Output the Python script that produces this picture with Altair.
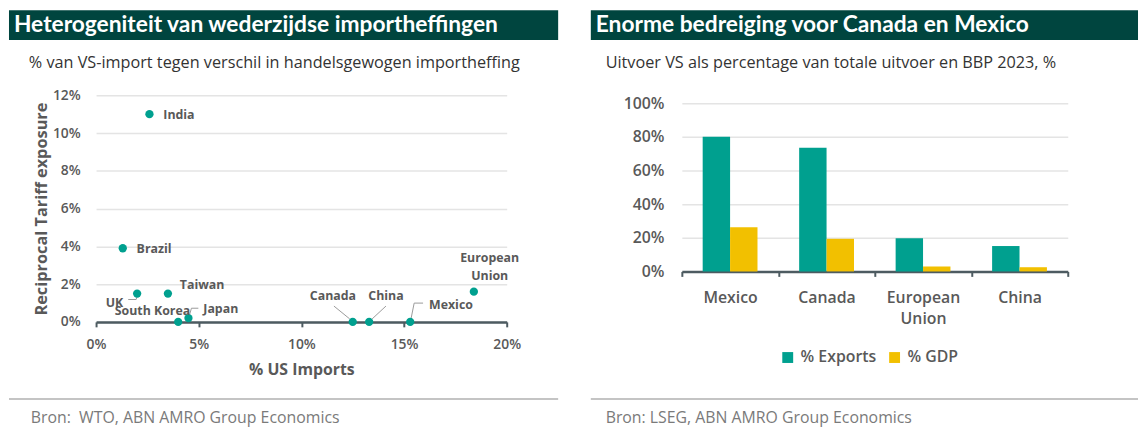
import altair as alt
import pandas as pd

# ---------------- data ----------------
# Left panel: scatter
countries = ["India", "Brazil", "UK", "Taiwan", "South Korea", "Japan",
             "Canada", "China", "Mexico", "European Union"]
us_imports = [0.026, 0.013, 0.020, 0.035, 0.040, 0.045, 0.125, 0.133, 0.153, 0.184]
tariff_exposure = [0.110, 0.039, 0.015, 0.015, 0.000, 0.002, 0.000, 0.000, 0.000, 0.016]
x_ticks = [0, 0.05, 0.10, 0.15, 0.20]
y_ticks = [0, 0.02, 0.04, 0.06, 0.08, 0.10, 0.12]

# Right panel: grouped bars
bar_countries = ["Mexico", "Canada", "European Union", "China"]
exports_share = [0.80, 0.735, 0.198, 0.151]
gdp_share = [0.263, 0.194, 0.029, 0.025]
series_names = ["% Exports", "% GDP"]
bar_ticks = [0, 0.2, 0.4, 0.6, 0.8, 1.0]

left_title = "Heterogeniteit van wederzijdse importheffingen"
left_subtitle = "% van VS-import tegen verschil in handelsgewogen importheffing"
left_source = "Bron:\u00a0 WTO, ABN AMRO Group Economics"
right_title = "Enorme bedreiging voor Canada en Mexico"
right_subtitle = "Uitvoer VS als percentage van totale uitvoer en BBP 2023, %"
right_source = "Bron: LSEG, ABN AMRO Group Economics"

# ---------------- style ----------------
FONT = "Open Sans, Lato, sans-serif"
FONT_T = "Lato, Open Sans, sans-serif"
TEAL = "#00A08F"
YELLOW = "#F2C000"
HEADER = "#00453F"
LABEL = "#595959"
DOMAIN = "#4D5B61"
GRID = "#E4E4E4"

dummy = alt.Data(values=[{"k": 1}])


def deco_rect(x1, x2, y1, y2, color):
    return alt.Chart(dummy).mark_rect(color=color).encode(
        x=alt.value(x1), x2=alt.value(x2), y=alt.value(y1), y2=alt.value(y2))


def deco_rule(x1, x2, y, color):
    return alt.Chart(dummy).mark_rule(color=color, strokeWidth=2).encode(
        x=alt.value(x1), x2=alt.value(x2), y=alt.value(y))


def deco_text(txt, x, y, size, color, weight="normal", font=FONT):
    return alt.Chart(dummy).mark_text(
        text=txt, align="left", baseline="middle", font=font,
        fontSize=size, color=color, fontWeight=weight).encode(
        x=alt.value(x), y=alt.value(y))


def decorations(hx1, hx2, title, tx, subtitle, sx, source, srcx):
    return [
        deco_rect(hx1, hx2, -86, -56, HEADER),
        deco_text(title, tx, -71, 23, "white", "bold", FONT_T),
        deco_text(subtitle, sx, -33, 16.4, "#333333"),
        deco_rule(hx1, hx2, 307, "#C4C4C4"),
        deco_text(source, srcx, 326, 16, "#7A7A7A"),
    ]


# ---------------- left panel ----------------
W1, H1 = 415, 229
scatter_df = pd.DataFrame({"country": countries, "imports": us_imports,
                           "exposure": tariff_exposure})
base = alt.Chart(scatter_df)

X = alt.X("imports:Q", scale=alt.Scale(domain=[0, 0.2], nice=False),
          axis=alt.Axis(values=x_ticks, format=".0%", grid=False,
                        labelFlush=False,
                        domain=True, domainColor=DOMAIN, domainWidth=2.5,
                        ticks=True, tickColor=DOMAIN, tickWidth=2, tickSize=5,
                        labelPadding=11, labelFont=FONT, labelFontSize=14,
                        labelFontWeight=600, labelColor=LABEL,
                        title="% US Imports", titleFont=FONT, titleFontSize=16,
                        titleFontWeight="bold", titleColor=LABEL,
                        titleY=48, titleBaseline="middle"))
Y = alt.Y("exposure:Q", scale=alt.Scale(domain=[0, 0.12], nice=False),
          axis=alt.Axis(values=y_ticks, format=".0%", grid=True,
                        labelFlush=False,
                        gridColor=GRID, gridWidth=1.5, domain=False,
                        ticks=False, labelPadding=16, labelFont=FONT,
                        labelFontSize=14, labelFontWeight=600,
                        labelColor=LABEL,
                        title="Reciprocal Tariff exposure", titleFont=FONT,
                        titleFontSize=16.5, titleFontWeight="bold",
                        titleColor=LABEL, titleX=-55, titleY=H1 / 2,
                        titleAlign="center", titleBaseline="middle"))

points = base.mark_circle(size=70, opacity=1, color=TEAL).encode(x=X, y=Y)


def label(name, dx, dy, align="left", baseline="middle", **kw):
    return base.transform_filter(alt.datum.country == name).mark_text(
        dx=dx, dy=dy, align=align, baseline=baseline, font=FONT,
        fontSize=12.5, fontWeight="bold", color=LABEL, **kw).encode(
        x=X, y=Y, text="country:N")


def leader(name, ox1, oy1, ox2, oy2):
    return base.transform_filter(alt.datum.country == name).mark_rule(
        color="#9A9A9A", strokeWidth=1, xOffset=ox1, yOffset=oy1,
        x2Offset=ox2, y2Offset=oy2).encode(
        x=X, y=Y, x2="imports:Q", y2="exposure:Q")


labels = [
    label("India", 14, 1),
    label("Brazil", 14, 1),
    label("Taiwan", 12, -9),
    label("UK", -14, 10, "right"),
    label("South Korea", -26, -11, "center"),
    label("Japan", 15, -9),
    label("Canada", -20, -26, "center"),
    label("China", 17, -26, "center"),
    label("Mexico", 19, -17),
    label("European Union", 16, -40, "center", "top",
          lineBreak=" ", lineHeight=18),
]

leaders = [
    leader("UK", 0, 3, -1, 6),
    leader("UK", -1, 6, -9, 6),
    leader("Japan", 1, -3, 3, -10),
    leader("Japan", 3, -10, 10, -10),
    leader("Mexico", 1, -4, 4, -19),
    leader("Mexico", 4, -19, 13, -19),
    leader("Canada", -3, -3, -19, -16),
    leader("China", 3, -3, 17, -16),
]

left = alt.layer(
    *decorations(-88, 467, left_title, -83, left_subtitle, -68,
                 left_source, -66),
    *leaders,
    points,
    *labels,
).properties(width=W1, height=H1)

# ---------------- right panel ----------------
W2, H2 = 390, 178
Y2_MAX = 178 / 170
bar_df = pd.DataFrame({"country": bar_countries, series_names[0]: exports_share,
                       series_names[1]: gdp_share}).melt(
    id_vars="country", var_name="series", value_name="value")

bars = alt.Chart(bar_df).mark_bar().encode(
    x=alt.X("country:N", sort=bar_countries,
            scale=alt.Scale(paddingInner=0, paddingOuter=0),
            axis=alt.Axis(title=None, labelAngle=0, domain=True,
                          domainColor=DOMAIN, domainWidth=2.5, ticks=True,
                          tickBand="extent", tickColor=DOMAIN, tickWidth=2,
                          tickSize=5, labelPadding=13, labelFont=FONT,
                          labelFontSize=16, labelFontWeight=600,
                          labelColor=LABEL, labelLineHeight=22,
                          labelExpr="split(datum.label, ' ')", grid=False)),
    xOffset=alt.XOffset("series:N", sort=series_names,
                        scale=alt.Scale(paddingInner=0, paddingOuter=0.76)),
    y=alt.Y("value:Q", scale=alt.Scale(domain=[0, Y2_MAX], nice=False),
            axis=alt.Axis(values=bar_ticks, format=".0%", title=None,
                          labelFlush=False,
                          grid=True, gridColor=GRID, gridWidth=1.5,
                          domain=False, ticks=False, labelPadding=18,
                          labelFont=FONT, labelFontSize=16,
                          labelFontWeight=600, labelColor=LABEL)),
    color=alt.Color("series:N",
                    scale=alt.Scale(domain=series_names, range=[TEAL, YELLOW]),
                    legend=alt.Legend(orient="none", legendX=99, legendY=257,
                                      direction="horizontal", title=None,
                                      symbolType="square", symbolSize=121,
                                      symbolStrokeWidth=0, labelFont=FONT,
                                      labelFontSize=16, labelFontWeight=600,
                                      labelColor=LABEL, labelOffset=5,
                                      columnPadding=10, padding=0)),
)

right = alt.layer(
    *decorations(-92, 461, right_title, -87, right_subtitle, -77,
                 right_source, -77),
    bars,
).properties(width=W2, height=H2)

chart = alt.hconcat(left, right, spacing=31).properties(
    padding={"left": 0, "top": 0, "right": 0, "bottom": 0}
).resolve_legend(color="independent").configure_view(stroke=None)

chart.save("out.html", embed_options={"renderer": "svg", "actions": False})
